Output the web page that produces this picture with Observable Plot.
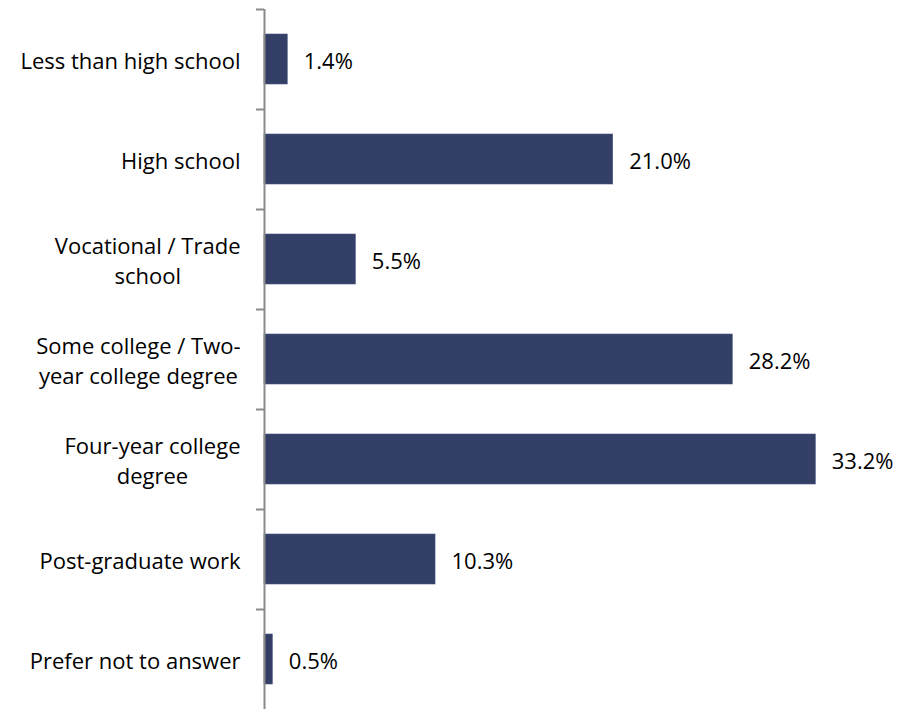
<!DOCTYPE html>
<html>
<head>
<meta charset="utf-8">
<script src="https://cdn.jsdelivr.net/npm/d3@7"></script>
<script src="https://cdn.jsdelivr.net/npm/@observablehq/plot@0.6"></script>
<style>
  html, body { margin: 0; padding: 0; background: #fff; }
  #chart svg { display: block; }
</style>
</head>
<body>
<div id="chart"></div>
<script>
const categories = [
  "Less than high school",
  "High school",
  "Vocational / Trade\nschool",
  "Some college / Two-\nyear college degree",
  "Four-year college\ndegree",
  "Post-graduate work",
  "Prefer not to answer"
];
const values = [1.4, 21.0, 5.5, 28.2, 33.2, 10.3, 0.5];
const valueLabels = ["1.4%", "21.0%", "5.5%", "28.2%", "33.2%", "10.3%", "0.5%"];

const data = categories.map((c, i) => ({category: c, value: values[i], label: valueLabels[i]}));

const FONT_NAME = "Open Sans";
const FONT = "'Open Sans', sans-serif";
const FS = 22;
const ctx = document.createElement("canvas").getContext("2d");
ctx.font = `${FS}px '${FONT_NAME}'`;
const maxLineWidth = c => Math.max(...c.split("\n").map(s => ctx.measureText(s).width));

const labelRight = 240;

const chart = Plot.plot({
  width: 901,
  height: 711,
  marginLeft: 264,
  marginRight: 6,
  marginTop: 9,
  marginBottom: 2,
  style: {fontFamily: FONT, fontSize: FS + "px", background: "#fff", color: "#000"},
  x: {domain: [0, 38], axis: null},
  y: {domain: categories, paddingInner: 0.5, paddingOuter: 0.25, axis: null},
  marks: [
    Plot.barX(data, {y: "category", x: "value", fill: "#333f66", stroke: "#4a5680", strokeWidth: 0.6}),
    Plot.ruleX([0], {stroke: "#8a8a8a", strokeWidth: 2}),
    Plot.ruleY(categories, {y: d => d, x1: -8 / 16.6, x2: 0, dy: -50, stroke: "#8a8a8a", strokeWidth: 2}),
    Plot.text(data, {
      y: "category", x: "value", text: "label",
      textAnchor: "start", dx: 16, dy: 2, fontSize: FS, fill: "#000"
    }),
    Plot.text(data, {
      y: "category", x: 0, text: "category",
      textAnchor: "middle", lineHeight: 1.37, fontSize: FS, fill: "#000",
      render: (index, scales, values, dims, context, next) => {
        const full = new Float64Array(values.x.length);
        index.forEach(i => { full[i] = labelRight - maxLineWidth(categories[i]) / 2; });
        return next(index, scales, {...values, x: full}, dims, context);
      }
    })
  ]
});

document.getElementById("chart").appendChild(chart);
</script>
</body>
</html>
